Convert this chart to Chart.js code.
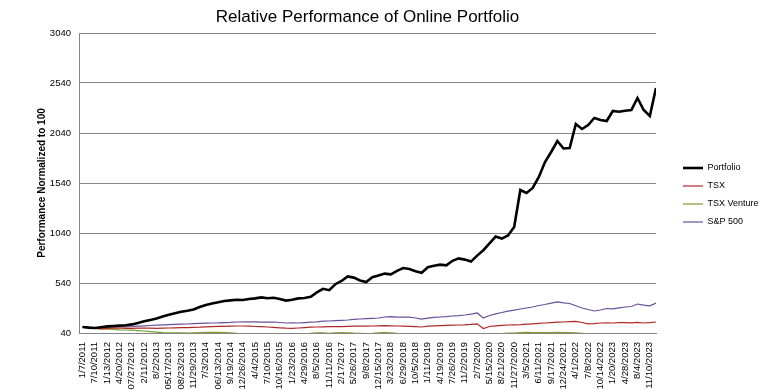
<!DOCTYPE html>
<html lang="en">
<head>
    <meta charset="UTF-8">
    <title>Relative Performance of Online Portfolio</title>
    <script src="https://cdn.jsdelivr.net/npm/chart.js@4.4.1/dist/chart.umd.min.js"></script>
    <style>
        body { margin: 0; background: #fff; }
        #wrap { width: 763px; height: 390px; }
    </style>
</head>
<body>
    <div id="wrap"><canvas id="perfChart" width="763" height="390"></canvas></div>

    <script>
        // tick labels on the date axis, one every 14 weeks
        const xLabels = ['1/7/2011', '7/10/2011', '1/13/2012', '4/20/2012', '07/27/2012', '2/11/2012',
            '8/2/2013', '05/17/2013', '08/23/2013', '11/29/2013', '7/3/2014', '06/13/2014', '9/19/2014',
            '12/26/2014', '4/4/2015', '7/10/2015', '10/16/2015', '1/23/2016', '4/29/2016', '8/5/2016',
            '11/11/2016', '2/17/2017', '5/26/2017', '9/8/2017', '12/15/2017', '3/23/2018', '6/29/2018',
            '10/5/2018', '1/11/2019', '4/19/2019', '7/26/2019', '11/2/2019', '2/7/2020', '5/15/2020',
            '8/21/2020', '11/27/2020', '3/5/2021', '6/11/2021', '9/17/2021', '12/24/2021', '4/1/2022',
            '7/8/2022', '10/14/2022', '1/20/2023', '4/28/2023', '8/4/2023', '11/10/2023'];

        // values sampled every 7 weeks from 1/7/2011
        const portfolio = [100, 94, 90, 98, 106, 110, 114, 117, 126, 140,
            157, 170, 184, 204, 222, 238, 252, 262, 276, 300,
            320, 336, 347, 360, 366, 372, 370, 380, 386, 396,
            388, 392, 380, 364, 372, 386, 390, 402, 446, 482,
            468, 528, 560, 606, 594, 566, 550, 598, 616, 634,
            626, 662, 690, 680, 658, 642, 698, 712, 724, 716,
            762, 786, 774, 754, 814, 868, 936, 1004, 984, 1016,
            1100, 1470, 1440, 1490, 1600, 1750, 1850, 1960, 1885, 1890,
            2130, 2080, 2120, 2190, 2170, 2160, 2260, 2253, 2263, 2270,
            2390, 2270, 2210, 2490];
        const tsx = [100, 96, 86, 82, 86, 88, 90, 87, 86, 88,
            89, 88, 87, 88, 90, 92, 93, 94, 96, 98,
            102, 104, 106, 107, 108, 110, 110, 108, 105, 103,
            100, 96, 92, 88, 86, 90, 94, 98, 100, 102,
            103, 104, 104, 106, 108, 110, 108, 110, 112, 113,
            112, 110, 108, 106, 104, 100, 108, 112, 114, 116,
            118, 120, 122, 126, 132, 85, 105, 112, 116, 120,
            122, 124, 128, 132, 136, 140, 144, 148, 150, 153,
            156, 145, 132, 134, 140, 142, 140, 144, 143, 142,
            146, 140, 144, 150];
        const tsxVenture = [100, 94, 85, 80, 78, 76, 72, 70, 68, 64,
            60, 54, 48, 43, 41, 42, 41, 40, 42, 44,
            46, 47, 46, 45, 41, 36, 33, 30, 28, 27,
            26, 25, 24, 23, 22, 24, 28, 36, 42, 41,
            37, 41, 43, 42, 38, 36, 35, 37, 42, 43,
            41, 37, 35, 34, 32, 29, 31, 32, 31, 32,
            33, 32, 31, 30, 30, 22, 28, 32, 35, 38,
            40, 43, 46, 44, 43, 44, 45, 47, 44, 43,
            41, 36, 32, 30, 31, 30, 31, 31, 29, 28,
            28, 26, 27, 28];
        const sp500 = [100, 96, 88, 92, 96, 98, 100, 102, 104, 108,
            112, 115, 118, 121, 124, 126, 128, 130, 133, 136,
            138, 140, 141, 144, 146, 150, 152, 151, 152, 149,
            148, 150, 145, 140, 142, 140, 144, 148, 152, 158,
            160, 163, 166, 170, 176, 180, 183, 186, 190, 200,
            203, 198, 198, 198, 190, 178, 188, 196, 200, 204,
            210, 214, 220, 228, 240, 190, 215, 232, 245, 258,
            268, 280, 290, 300, 315, 325, 338, 352, 342, 335,
            312, 290, 275, 260, 270, 285, 282, 292, 300, 305,
            330, 318, 312, 340];

        function toPoints(values) {
            return values.map((v, i) => ({ x: Math.min(i * 7, 651), y: v }));
        }

        function line(label, values, color, width) {
            return {
                label: label,
                data: toPoints(values),
                borderColor: color,
                backgroundColor: color,
                borderWidth: width,
                pointRadius: 0,
                tension: 0
            };
        }

        const ctx = document.getElementById('perfChart').getContext('2d');
        new Chart(ctx, {
            type: 'line',
            data: {
                datasets: [
                    line('Portfolio', portfolio, '#000000', 2.6),
                    line('TSX', tsx, '#b02a2a', 1.2),
                    line('TSX Venture', tsxVenture, '#7c9c2e', 1.2),
                    line('S&P 500', sp500, '#6a4f9c', 1.2)
                ]
            },
            options: {
                responsive: false,
                animation: false,
                layout: { padding: { top: 0, right: 0, bottom: 0, left: 0 } },
                plugins: {
                    title: {
                        display: true,
                        text: 'Relative Performance of Online Portfolio',
                        fullSize: false,
                        color: '#000',
                        font: { family: 'Liberation Sans, Arial', size: 17, weight: 'normal' },
                        padding: { top: 7, bottom: 5.6 }
                    },
                    legend: {
                        position: 'right',
                        maxWidth: 89,
                        labels: {
                            usePointStyle: true,
                            pointStyle: 'line',
                            pointStyleWidth: 20,
                            padding: 9,
                            color: '#000',
                            font: { family: 'Liberation Sans, Arial', size: 9 }
                        }
                    },
                    tooltip: { enabled: false }
                },
                scales: {
                    x: {
                        type: 'linear',
                        min: -4,
                        max: 651,
                        afterBuildTicks: function(scale) {
                            scale.ticks = xLabels.map((l, i) => ({ value: i * 14 }));
                        },
                        afterFit: function(scale) { scale.height = 57; },
                        grid: { display: false },
                        border: { display: true, color: '#868686', width: 1 },
                        ticks: {
                            autoSkip: false,
                            minRotation: 90,
                            maxRotation: 90,
                            padding: 1,
                            color: '#000',
                            font: { family: 'Liberation Sans, Arial', size: 9.5 },
                            callback: function(value, index) { return xLabels[index]; }
                        }
                    },
                    y: {
                        min: 40,
                        max: 3040,
                        afterFit: function(scale) { scale.width = 79; },
                        grid: { color: '#868686', drawTicks: false },
                        border: { display: true, color: '#868686', width: 1 },
                        ticks: {
                            stepSize: 500,
                            padding: 8,
                            color: '#000',
                            font: { family: 'Liberation Sans, Arial', size: 9.5 },
                            callback: function(value) { return String(value); }
                        },
                        title: {
                            display: true,
                            text: 'Performance Normalized to 100',
                            color: '#000',
                            font: { family: 'Liberation Sans, Arial', size: 10, weight: 'bold' },
                            padding: { top: 36, bottom: 0 }
                        }
                    },
                    // empty axis on the right only keeps a gap before the legend
                    gap: {
                        position: 'right',
                        display: true,
                        afterFit: function(scale) { scale.width = 18; },
                        grid: { display: false },
                        border: { display: false },
                        ticks: { display: false }
                    }
                }
            }
        });
    </script>
</body>
</html>
